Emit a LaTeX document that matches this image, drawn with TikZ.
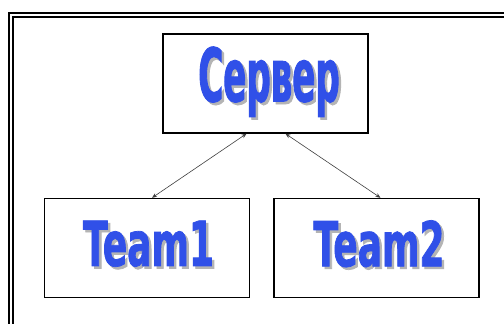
\documentclass[tikz,border=0pt]{standalone}
\usepackage{fontspec}
\usetikzlibrary{arrows.meta}
\newfontfamily\wafontA[FakeStretch=0.46,FakeBold=1.2]{DejaVu Sans Bold}
\newfontfamily\wafontB[FakeStretch=0.58,FakeBold=1.2]{DejaVu Sans Bold}
\definecolor{waBlue}{HTML}{3050E8}
\definecolor{waShadow}{HTML}{B4B4B4}
\newcommand{\shadowed}[1]{\makebox[0pt][l]{\hspace{2.5pt}\raisebox{-2.5pt}{\textcolor{waShadow}{#1}}}\textcolor{waBlue}{#1}}
\tikzset{
  box/.style={draw=black, line width=1.4pt, minimum width=205pt, minimum height=99pt, inner sep=0pt},
  link/.style={draw=black!75, line width=0.6pt, {Stealth[length=5pt,width=4pt]}-{Stealth[length=5pt,width=4pt]}},
  watxt/.style={inner sep=0pt}
}
\begin{document}
\begin{tikzpicture}[x=1pt,y=-1pt]
\useasboundingbox (0,0) rectangle (504,324);
\clip (0,0) rectangle (504,324);
\fill[white] (0,0) rectangle (504,324);
% double frame
\draw[line width=2pt] (9,330) -- (9,13) -- (510,13);
\draw[line width=1.6pt] (13,330) -- (13,17) -- (510,17);
% boxes
\node[box] (server) at (265.5,83.5) {};
\node[box] (team1) at (147,248) {};
\node[box] (team2) at (376.5,248) {};
% texts
\node[watxt,font=\wafontA\fontsize{74}{74}\selectfont] (servert) at (269,83) {\shadowed{Сервер}};
\node[watxt,font=\wafontB\fontsize{62}{62}\selectfont] (team1t) at (148.5,245) {\shadowed{Team1}};
\node[watxt,font=\wafontB\fontsize{62}{62}\selectfont] (team2t) at (379,245) {\shadowed{Team2}};
% connectors
\coordinate (s1) at ([xshift=-19pt]server.south);
\coordinate (s2) at ([xshift=20pt]server.south);
\coordinate (t1) at ([xshift=5pt]team1.north);
\coordinate (t2) at ([xshift=4pt]team2.north);
\draw[link] (s1) -- (t1);
\draw[link] (s2) -- (t2);
\end{tikzpicture}
\end{document}
